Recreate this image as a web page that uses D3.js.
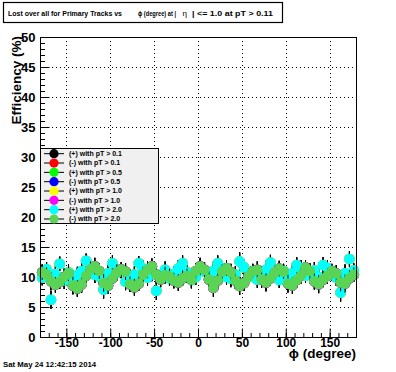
<!DOCTYPE html>
<html>
<head>
<meta charset="utf-8">
<script src="https://cdn.jsdelivr.net/npm/d3@7"></script>
<style>
  body { margin: 0; background: #fff; }
  svg { display: block; font-family: "Liberation Sans", Arial, sans-serif; }
</style>
</head>
<body>
<svg class="chart" width="396" height="372"></svg>
<script>
// phi bin centres, 5 degree bins
const phiBins = d3.range(-177.5, 180, 5);

// efficiency (%) per bin
const effPlus = [9.9, 11.3, 6.2, 10.5, 12.2, 9.4, 10.8, 9.6, 10.3, 11.0, 12.7, 11.6, 10.4, 10.1, 7.9, 10.6, 12.3, 10.7,
  11.0, 9.2, 10.0, 10.4, 12.3, 11.4, 9.9, 10.6, 7.7, 10.1, 11.2, 9.8, 10.5, 11.4, 12.3, 10.8, 9.5, 10.0,
  11.5, 10.9, 10.2, 11.0, 12.3, 11.3, 10.0, 9.7, 10.4, 12.6, 11.6, 10.0, 10.6, 9.6, 10.4, 11.2, 12.4, 10.6,
  9.5, 11.0, 9.8, 10.6, 12.0, 11.4, 10.2, 10.5, 11.1, 10.0, 12.0, 11.5, 10.6, 9.9, 7.4, 10.6, 13.0, 11.1];
const effMinus = [10.8, 10.4, 9.3, 8.7, 9.2, 10.0, 10.6, 8.6, 8.1, 8.8, 10.2, 11.3, 11.8, 11.0, 9.0, 8.6, 9.8, 10.8,
  11.3, 10.9, 8.8, 8.3, 8.9, 10.4, 11.2, 11.8, 10.4, 9.6, 10.3, 10.1, 9.4, 9.1, 9.8, 10.2, 9.6, 11.0,
  11.8, 11.2, 9.6, 8.2, 9.4, 10.9, 11.5, 10.8, 9.4, 8.5, 9.0, 10.1, 11.0, 11.2, 9.6, 9.1, 9.8, 10.7,
  11.4, 10.9, 8.9, 8.6, 9.5, 10.3, 11.6, 11.0, 9.3, 8.8, 9.6, 10.2, 11.0, 10.6, 9.1, 8.9, 9.8, 10.4];
// statistical errors (same for every pT cut, as read)
const effErr = [1.3, 1.2, 1.5, 1.3, 1.2, 1.4, 1.3, 1.5, 1.4, 1.4, 1.2, 1.3, 1.4, 1.3, 1.5, 1.4, 1.3, 1.3,
  1.2, 1.4, 1.3, 1.4, 1.2, 1.3, 1.4, 1.3, 1.5, 1.3, 1.4, 1.3, 1.3, 1.4, 1.3, 1.2, 1.4, 1.3,
  1.4, 1.3, 1.4, 1.5, 1.3, 1.2, 1.3, 1.4, 1.4, 1.5, 1.3, 1.3, 1.2, 1.4, 1.4, 1.5, 1.3, 1.2,
  1.3, 1.2, 1.5, 1.4, 1.3, 1.4, 1.2, 1.3, 1.4, 1.5, 1.3, 1.3, 1.2, 1.4, 1.5, 1.5, 1.3, 1.2];

const seriesLabels = ["(+) with pT > 0.1", "(-) with pT > 0.1", "(+) with pT > 0.5", "(-) with pT > 0.5",
  "(+) with pT > 1.0", "(-) with pT > 1.0", "(+) with pT > 2.0", "(-) with pT > 2.0"];
const seriesColors = ["#000000", "#ff0000", "#00ff00", "#0000ff", "#ffff00", "#ff00ff", "#00ffff", "#59d454"];
const seriesValues = [effPlus, effMinus, effPlus, effMinus, effPlus, effMinus, effPlus, effMinus];

const xTicks = [-150, -100, -50, 0, 50, 100, 150];
const yTicks = [0, 5, 10, 15, 20, 25, 30, 35, 40, 45, 50];

const padL = 40, padR = 356, padT = 37, padB = 337;

const x = d3.scaleLinear().domain([-180, 180]).range([padL, padR]);
const y = d3.scaleLinear().domain([0, 50]).range([padB, padT]);

const svg = d3.select(".chart");

// title box
svg.append("rect")
  .attr("x", 3.5).attr("y", 2.5).attr("width", 279).attr("height", 20)
  .attr("fill", "#fff").attr("stroke", "#000").attr("stroke-width", 1.2);
const titleParts = [
  { t: "Lost over all for Primary Tracks vs", x: 8, w: 114, b: true },
  { t: "\u03d5 (degree) at |", x: 138, w: 38, b: true },
  { t: "\u03b7", x: 182.5, w: 4.5, b: false },
  { t: "| <= 1.0 at pT > 0.11", x: 192, w: 81, b: true }
];
svg.append("g").selectAll("text").data(titleParts).join("text")
  .attr("x", d => d.x).attr("y", 15.5).attr("font-size", 7)
  .attr("font-weight", d => d.b ? "bold" : "normal")
  .attr("textLength", d => d.w).attr("lengthAdjust", "spacingAndGlyphs")
  .text(d => d.t);

// dotted grid
svg.append("g").selectAll("line").data(xTicks).join("line")
  .attr("x1", d => Math.round(x(d)) + 0.5).attr("x2", d => Math.round(x(d)) + 0.5)
  .attr("y1", padT).attr("y2", padB)
  .attr("stroke", "#000").attr("stroke-dasharray", "1,3");
svg.append("g").selectAll("line").data(yTicks.slice(1, -1)).join("line")
  .attr("x1", padL).attr("x2", padR)
  .attr("y1", d => Math.round(y(d)) + 0.5).attr("y2", d => Math.round(y(d)) + 0.5)
  .attr("stroke", "#000").attr("stroke-dasharray", "1,3");

// axes with ROOT-like inward ticks
const fmt = d => String(d);
const yAxis = svg.append("g").attr("transform", `translate(${padL + 0.5},0)`)
  .call(d3.axisLeft(y).tickValues(yTicks).tickSize(-9).tickFormat(fmt));
svg.append("g").attr("transform", `translate(${padL + 0.5},0)`)
  .call(d3.axisLeft(y).ticks(50).tickSize(-4.5).tickFormat(""));
const xAxis = svg.append("g").attr("transform", `translate(0,${padB + 0.5})`)
  .call(d3.axisBottom(x).tickValues(xTicks).tickSize(-9).tickFormat(fmt));
svg.append("g").attr("transform", `translate(0,${padB + 0.5})`)
  .call(d3.axisBottom(x).tickValues(d3.range(-170, 180, 10)).tickSize(-4.5).tickFormat(""));
svg.selectAll(".domain").remove();
svg.selectAll(".tick line").attr("stroke", "#000");
yAxis.selectAll("text").attr("font-size", 13).attr("font-weight", "bold").attr("fill", "#000")
  .attr("x", -5).attr("dy", "0.36em");
xAxis.selectAll("text").attr("font-size", 12).attr("font-weight", "bold").attr("fill", "#000")
  .attr("y", 9.5).attr("dy", 0);

// markers with error bars, series drawn in order so later ones sit on top
seriesValues.forEach((vals, i) => {
  const g = svg.append("g");
  const pts = phiBins.map((p, j) => ({ phi: p, v: vals[j], e: effErr[j] }));
  g.selectAll("line").data(pts).join("line")
    .attr("x1", d => x(d.phi)).attr("x2", d => x(d.phi))
    .attr("y1", d => y(d.v - d.e)).attr("y2", d => y(d.v + d.e))
    .attr("stroke", "#000").attr("stroke-width", 1);
  g.selectAll("circle").data(pts).join("circle")
    .attr("cx", d => x(d.phi)).attr("cy", d => y(d.v)).attr("r", 5.3)
    .attr("fill", seriesColors[i]);
});

// frame
svg.append("rect")
  .attr("x", padL + 0.5).attr("y", padT + 0.5).attr("width", padR - padL).attr("height", padB - padT)
  .attr("fill", "none").attr("stroke", "#000");

// legend
const leg = svg.append("g");
leg.append("rect").attr("x", 40.5).attr("y", 148.5).attr("width", 118).attr("height", 75)
  .attr("fill", "#f0f0f0").attr("stroke", "#000");
const rows = leg.selectAll("g").data(seriesLabels).join("g")
  .attr("transform", (d, i) => `translate(0,${153.7 + i * 9.33})`);
rows.append("line").attr("x1", 44).attr("x2", 64).attr("stroke", "#000");
rows.append("circle").attr("cx", 54).attr("r", 4.6).attr("fill", (d, i) => seriesColors[i]);
rows.append("text").attr("x", 69).attr("dy", "0.35em").attr("font-size", 7).attr("font-weight", "bold")
  .text(d => d);

// axis titles
svg.append("text").attr("transform", "translate(21,36) rotate(-90)")
  .attr("text-anchor", "end").attr("font-size", 13.5).attr("font-weight", "bold").text("Efficiency (%)");
svg.append("text").attr("x", 356).attr("y", 358).attr("text-anchor", "end")
  .attr("font-size", 13.5).attr("font-weight", "bold").text("\u03d5 (degree)");

// date stamp
svg.append("text").attr("x", 3).attr("y", 367).attr("font-size", 7.8).attr("font-weight", "bold")
  .text("Sat May 24 12:42:15 2014");
</script>
</body>
</html>
